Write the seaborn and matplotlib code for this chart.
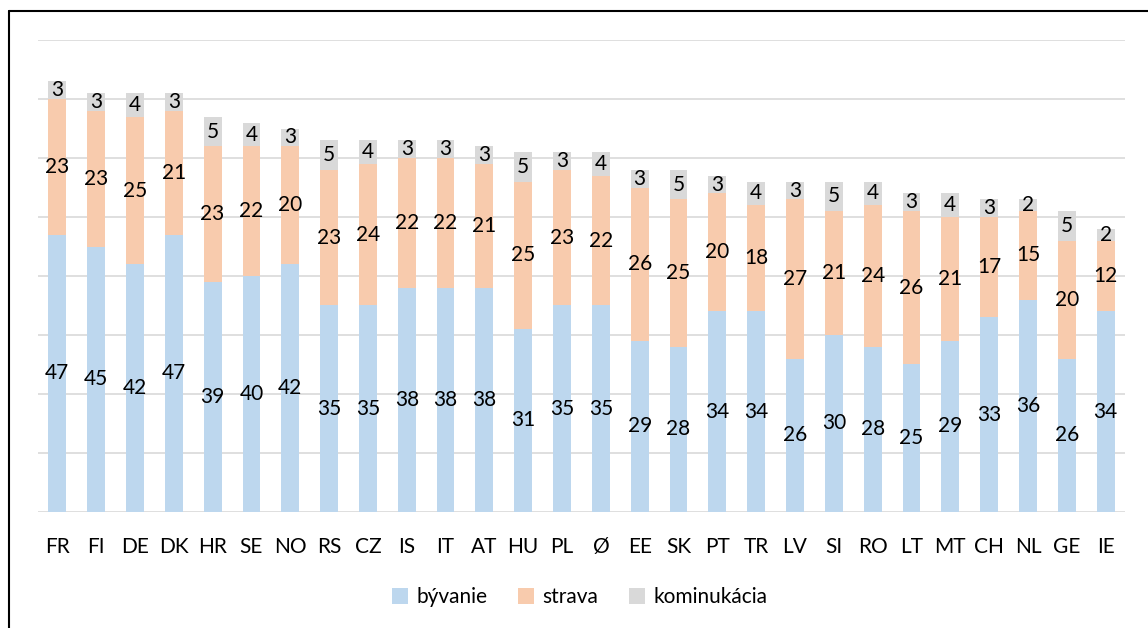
import numpy as np
import pandas as pd
import seaborn as sns
import matplotlib
import matplotlib.pyplot as plt
from matplotlib.patches import Patch
from matplotlib.lines import Line2D
matplotlib.use('Agg')

sns.set_theme(style="white")
plt.rcParams['font.family'] = ['Lato', 'DejaVu Sans']

# data
countries = ['FR', 'FI', 'DE', 'DK', 'HR', 'SE', 'NO', 'RS', 'CZ', 'IS', 'IT', 'AT', 'HU', 'PL',
             'Ø', 'EE', 'SK', 'PT', 'TR', 'LV', 'SI', 'RO', 'LT', 'MT', 'CH', 'NL', 'GE', 'IE']
byvanie = [47, 45, 42, 47, 39, 40, 42, 35, 35, 38, 38, 38, 31, 35,
           35, 29, 28, 34, 34, 26, 30, 28, 25, 29, 33, 36, 26, 34]
strava = [23, 23, 25, 21, 23, 22, 20, 23, 24, 22, 22, 21, 25, 23,
          22, 26, 25, 20, 18, 27, 21, 24, 26, 21, 17, 15, 20, 12]
komunikacia = [3, 3, 4, 3, 5, 4, 3, 5, 4, 3, 3, 3, 5, 3,
               4, 3, 5, 3, 4, 3, 5, 4, 3, 4, 3, 2, 5, 2]

series_names = ['bývanie', 'strava', 'kominukácia']
colors = ['#bdd7ee', '#f8cbad', '#d9d9d9']

df = pd.DataFrame({'country': countries, 'b': byvanie, 's': strava, 'k': komunikacia})

fig = plt.figure(figsize=(11.48, 6.28), dpi=100)
ax = fig.add_axes([0.033, 0.185, 0.947, 0.751])

text_size = 15
bottom = np.zeros(len(df))
bar_width = 0.46
for col, color in zip(['b', 's', 'k'], colors):
    sns.barplot(data=df, x='country', y=col, bottom=bottom, color=color,
                width=bar_width, saturation=1, ax=ax, linewidth=0)
    for i, v in enumerate(df[col]):
        ax.text(i, bottom[i] + v / 2, str(v), ha='center', va='center',
                fontsize=text_size, color='black')
    bottom = bottom + df[col].values

ax.set_ylim(0, 80)
ax.set_xlim(-0.5, len(df) - 0.5)
ax.set_yticks(range(0, 81, 10))
ax.set_yticklabels([])
ax.yaxis.grid(True, color='#d9d9d9', linewidth=1.2)
ax.set_axisbelow(True)
for sp in ax.spines.values():
    sp.set_visible(False)
ax.tick_params(axis='both', length=0)
ax.tick_params(axis='x', labelsize=text_size, pad=18, labelcolor='black')
ax.set_xlabel('')
ax.set_ylabel('')

handles = [Patch(facecolor=c, edgecolor='none') for c in colors]
fig.legend(handles, series_names, loc='center', bbox_to_anchor=(0.505, 0.049),
           ncol=3, frameon=False, fontsize=text_size, handlelength=0.75, handleheight=0.75,
           handletextpad=0.4, columnspacing=1.5, labelcolor='black')

# outer frame (only top and left visible)
fig.add_artist(Line2D([0.0075, 0.0075], [0, 0.983], color='black', lw=1.5, transform=fig.transFigure))
fig.add_artist(Line2D([0.0075, 1.0], [0.983, 0.983], color='black', lw=1.5, transform=fig.transFigure))

fig.savefig('out.png', dpi=100)
